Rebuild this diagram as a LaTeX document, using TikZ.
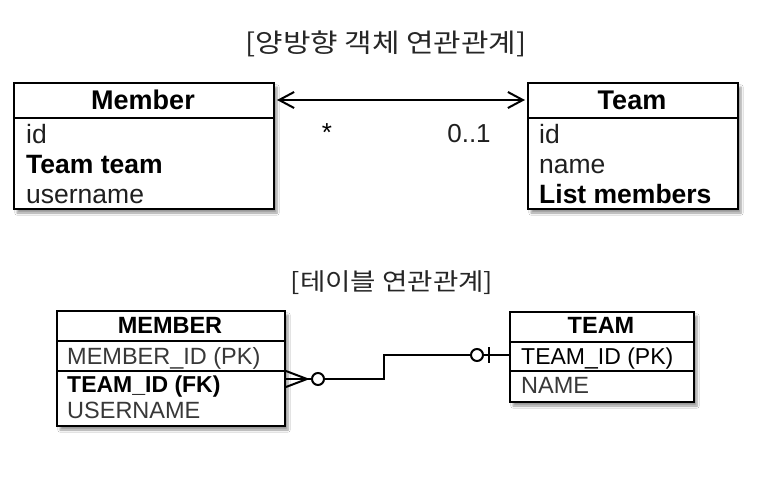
\documentclass[tikz,border=0pt]{standalone}
\usepackage{fontspec}
\setmainfont{Liberation Sans}
\newfontfamily\krfont[FakeStretch=1.15]{Noto Sans CJK KR}
\usetikzlibrary{shadows.blur,arrows.meta,calc}
\begin{document}
\begin{tikzpicture}[x=1pt,y=-1pt,
  box/.style={draw, line width=2pt, fill=white, inner sep=0pt, anchor=north west,
    blur shadow={shadow xshift=3pt, shadow yshift=-4pt, shadow blur steps=6, shadow opacity=40}},
  divider/.style={line width=2pt},
  hdr/.style={font=\fontsize{27}{27}\selectfont\bfseries, anchor=base, inner sep=0pt},
  attr/.style={font=\fontsize{26.5}{26.5}\selectfont, anchor=base west, text=black!88, inner sep=0pt},
  attrb/.style={font=\fontsize{26.5}{26.5}\selectfont\bfseries, anchor=base west, inner sep=0pt},
  thdr/.style={font=\fontsize{23.5}{23.5}\selectfont\bfseries, anchor=base, inner sep=0pt},
  tattr/.style={font=\fontsize{23.5}{23.5}\selectfont, anchor=base west, text=black!78, inner sep=0pt},
  tattrb/.style={font=\fontsize{23}{23}\selectfont\bfseries, anchor=base west, inner sep=0pt},
  title/.style={text=black!85, inner sep=0pt},
  conn/.style={line width=2pt},
  circ/.style={line width=2pt, fill=white}
]
\useasboundingbox (0,0) rectangle (760,488);
\fill[white] (0,0) rectangle (760,488);

% titles
\node[title, font=\krfont\fontsize{26}{26}\selectfont] (t1) at (386,44) {[양방향 객체 연관관계]};
\node[title, font=\krfont\fontsize{24}{24}\selectfont] (t2) at (392,283) {[테이블 연관관계]};

% object boxes
\node[box, minimum width=260pt, minimum height=126pt] (member) at (13,82) {};
\node[box, minimum width=210pt, minimum height=126pt] (team) at (527,82) {};
\draw[divider] ([yshift=-36pt]member.north west) -- ([yshift=-36pt]member.north east);
\draw[divider] ([yshift=-36pt]team.north west) -- ([yshift=-36pt]team.north east);

\node[hdr] (mh) at (143,109) {Member};
\node[attr] (m1) at (26,143) {id};
\node[attrb] (m2) at (26,173) {Team team};
\node[attr] (m3) at (26,203) {username};

\node[hdr] (th) at (632,109) {Team};
\node[attr] (tt1) at (539,143) {id};
\node[attr] (tt2) at (539,173) {name};
\node[attrb] (tt3) at (539,203) {List members};

\draw[conn, {Straight Barb[length=15pt,width=16pt,line width=2pt]}-{Straight Barb[length=15pt,width=16pt,line width=2pt]}]
  ([xshift=2pt,yshift=-18pt]member.north east) -- ([xshift=-2pt,yshift=-18pt]team.north west);
\node[font=\fontsize{26}{26}\selectfont, anchor=base, inner sep=0pt] (star) at (327,141) {*};
\node[font=\fontsize{26}{26}\selectfont, anchor=base, text=black!88, inner sep=0pt] (mult) at (469,142) {0..1};

% table boxes
\node[box, minimum width=228pt, minimum height=115pt] (mem) at (56,310) {};
\node[box, minimum width=184pt, minimum height=90pt] (tm) at (509,311) {};
\draw[divider] ([yshift=-31pt]mem.north west) -- ([yshift=-31pt]mem.north east);
\draw[divider] ([yshift=-61pt]mem.north west) -- ([yshift=-61pt]mem.north east);
\draw[divider] ([yshift=-31pt]tm.north west) -- ([yshift=-31pt]tm.north east);
\draw[divider] ([yshift=-60pt]tm.north west) -- ([yshift=-60pt]tm.north east);

\node[thdr] (memh) at (170,333) {MEMBER};
\node[tattr] (me1) at (67,364) {MEMBER\_ID (PK)};
\node[tattrb] (me2) at (67,392) {TEAM\_ID (FK)};
\node[tattr] (me3) at (67,418) {USERNAME};

\node[thdr] (tmh) at (601,333) {TEAM};
\node[tattr, text=black, font=\fontsize{23}{23}\selectfont] (tm1) at (521,364) {TEAM\_ID (PK)};
\node[tattr] (tm2) at (521,393) {NAME};

% ER connector
\coordinate (mA) at ([yshift=-69pt]mem.north east);
\coordinate (tA) at ([yshift=-44pt]tm.north west);
\draw[conn] (mA) -- ++(98,0) |- (tA);
\draw[conn] ($(mA)+(0,-8)$) -- ($(mA)+(21,0)$) -- ($(mA)+(0,8)$);
\draw[circ] ($(mA)+(32,0)$) circle (6pt);
\draw[circ] ($(tA)+(-32,0)$) circle (6pt);
\draw[conn] ($(tA)+(-20,-8)$) -- ($(tA)+(-20,8)$);
\end{tikzpicture}
\end{document}
